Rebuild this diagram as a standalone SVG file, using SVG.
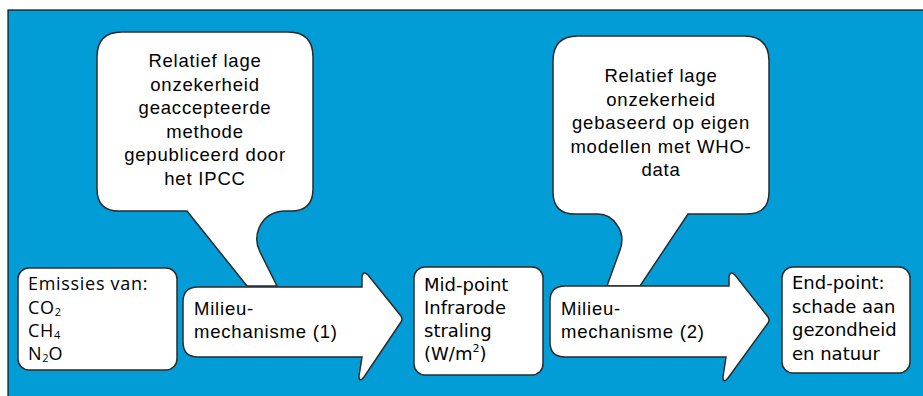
<svg xmlns="http://www.w3.org/2000/svg" width="923" height="396" viewBox="0 0 923 396">
  <style>
    .box { fill: #ffffff; stroke: #2b2b2b; stroke-width: 1.5; }
    .arial { font-family: "Liberation Sans", Arial, sans-serif; font-size: 18.5px; letter-spacing: 0.8px; fill: #000; }
    .myriad { font-family: "Open Sans", "Noto Sans", sans-serif; font-size: 18px; letter-spacing: 0.7px; fill: #000; }
    .tahoma { font-family: "DejaVu Sans", Verdana, sans-serif; font-size: 18px; fill: #000; }
    .mid { text-anchor: middle; }
    .sub { font-size: 11px; letter-spacing: 0; }
  </style>

  <!-- backdrop -->
  <rect x="0" y="0" width="923" height="396" fill="#ffffff"/>
  <rect x="8" y="10" width="930" height="400" fill="#029dd7" stroke="#111" stroke-width="1.2"/>

  <!-- callout 1 -->
  <g id="callout-ipcc">
    <path class="box" d="M 122,32 L 288,32 Q 313,32 313,57 L 313,189 Q 313,211 291,211 L 284,211 Q 266,212 259,228 Q 254,240 260,252 L 277,286 L 247,286 L 187,211 L 119,211 Q 97,211 97,189 L 97,57 Q 97,32 122,32 Z"/>
    <text class="arial mid" x="205" y="67">Relatief lage</text>
    <text class="arial mid" x="205" y="90.5">onzekerheid</text>
    <text class="arial mid" x="205" y="114">geaccepteerde</text>
    <text class="arial mid" x="205" y="137.5">methode</text>
    <text class="arial mid" x="205" y="161">gepubliceerd door</text>
    <text class="arial mid" x="205" y="184.5">het IPCC</text>
  </g>

  <!-- callout 2 -->
  <g id="callout-who">
    <path class="box" d="M 578,36 L 744,36 Q 769,36 769,61 L 769,192 Q 769,214 747,214 L 688,214 L 640,286 L 607,286 L 620,250 Q 625,236 617,225 Q 610,214 598,214 L 575,214 Q 553,214 553,192 L 553,61 Q 553,36 578,36 Z"/>
    <text class="arial mid" x="661" y="82">Relatief lage</text>
    <text class="arial mid" x="661" y="105.5">onzekerheid</text>
    <text class="arial mid" x="661" y="129">gebaseerd op eigen</text>
    <text class="arial mid" x="661" y="152.5">modellen met WHO-</text>
    <text class="arial mid" x="661" y="176">data</text>
  </g>

  <!-- emissions box -->
  <g id="emissies">
    <rect class="box" x="18" y="268" width="159" height="102" rx="11"/>
    <text class="myriad" x="28" y="290">Emissies van:</text>
    <text class="myriad" x="28" y="314">CO<tspan class="sub" dy="2">2</tspan></text>
    <text class="myriad" x="28" y="337">CH<tspan class="sub" dy="2">4</tspan></text>
    <text class="myriad" x="28" y="360">N<tspan class="sub" dy="2">2</tspan><tspan dy="-2">O</tspan></text>
  </g>

  <!-- mechanism arrow 1 -->
  <g id="mechanisme-1">
    <path class="box" d="M 198,287 L 362,287 L 362,277 Q 363,270 368,275 L 401,316 Q 403,319 401,322 L 364,377 Q 359,383 359,376 L 362,357 L 198,357 Q 183,357 183,342 L 183,302 Q 183,287 198,287 Z"/>
    <text class="arial" x="194" y="315">Milieu-</text>
    <text class="arial" x="194" y="338">mechanisme (1)</text>
  </g>

  <!-- mid-point box -->
  <g id="mid-point">
    <rect class="box" x="414" y="267" width="129" height="108" rx="11"/>
    <text class="tahoma" x="424" y="291">Mid-point</text>
    <text class="tahoma" x="424" y="313.5">Infrarode</text>
    <text class="tahoma" x="424" y="336.5">straling</text>
    <text class="tahoma" x="424" y="360">(W/m<tspan class="sub" dy="-8">2</tspan><tspan dy="8">)</tspan></text>
  </g>

  <!-- mechanism arrow 2 -->
  <g id="mechanisme-2">
    <path class="box" d="M 565,286 L 729,286 L 729,277 Q 730,270 735,275 L 768,317 Q 770,320 768,323 L 728,378 Q 723,384 723,377 L 726,357 L 565,357 Q 550,357 550,342 L 550,301 Q 550,286 565,286 Z"/>
    <text class="arial" x="561" y="315">Milieu-</text>
    <text class="arial" x="561" y="338">mechanisme (2)</text>
  </g>

  <!-- end-point box -->
  <g id="end-point">
    <rect class="box" x="782" y="267" width="128" height="106" rx="11"/>
    <text class="tahoma" x="792" y="289">End-point:</text>
    <text class="tahoma" x="792" y="313">schade aan</text>
    <text class="tahoma" x="792" y="336">gezondheid</text>
    <text class="tahoma" x="792" y="360">en natuur</text>
  </g>

  <!-- connectors: the flow is carried by the arrow shapes themselves -->
  <g id="connectors"></g>
</svg>
